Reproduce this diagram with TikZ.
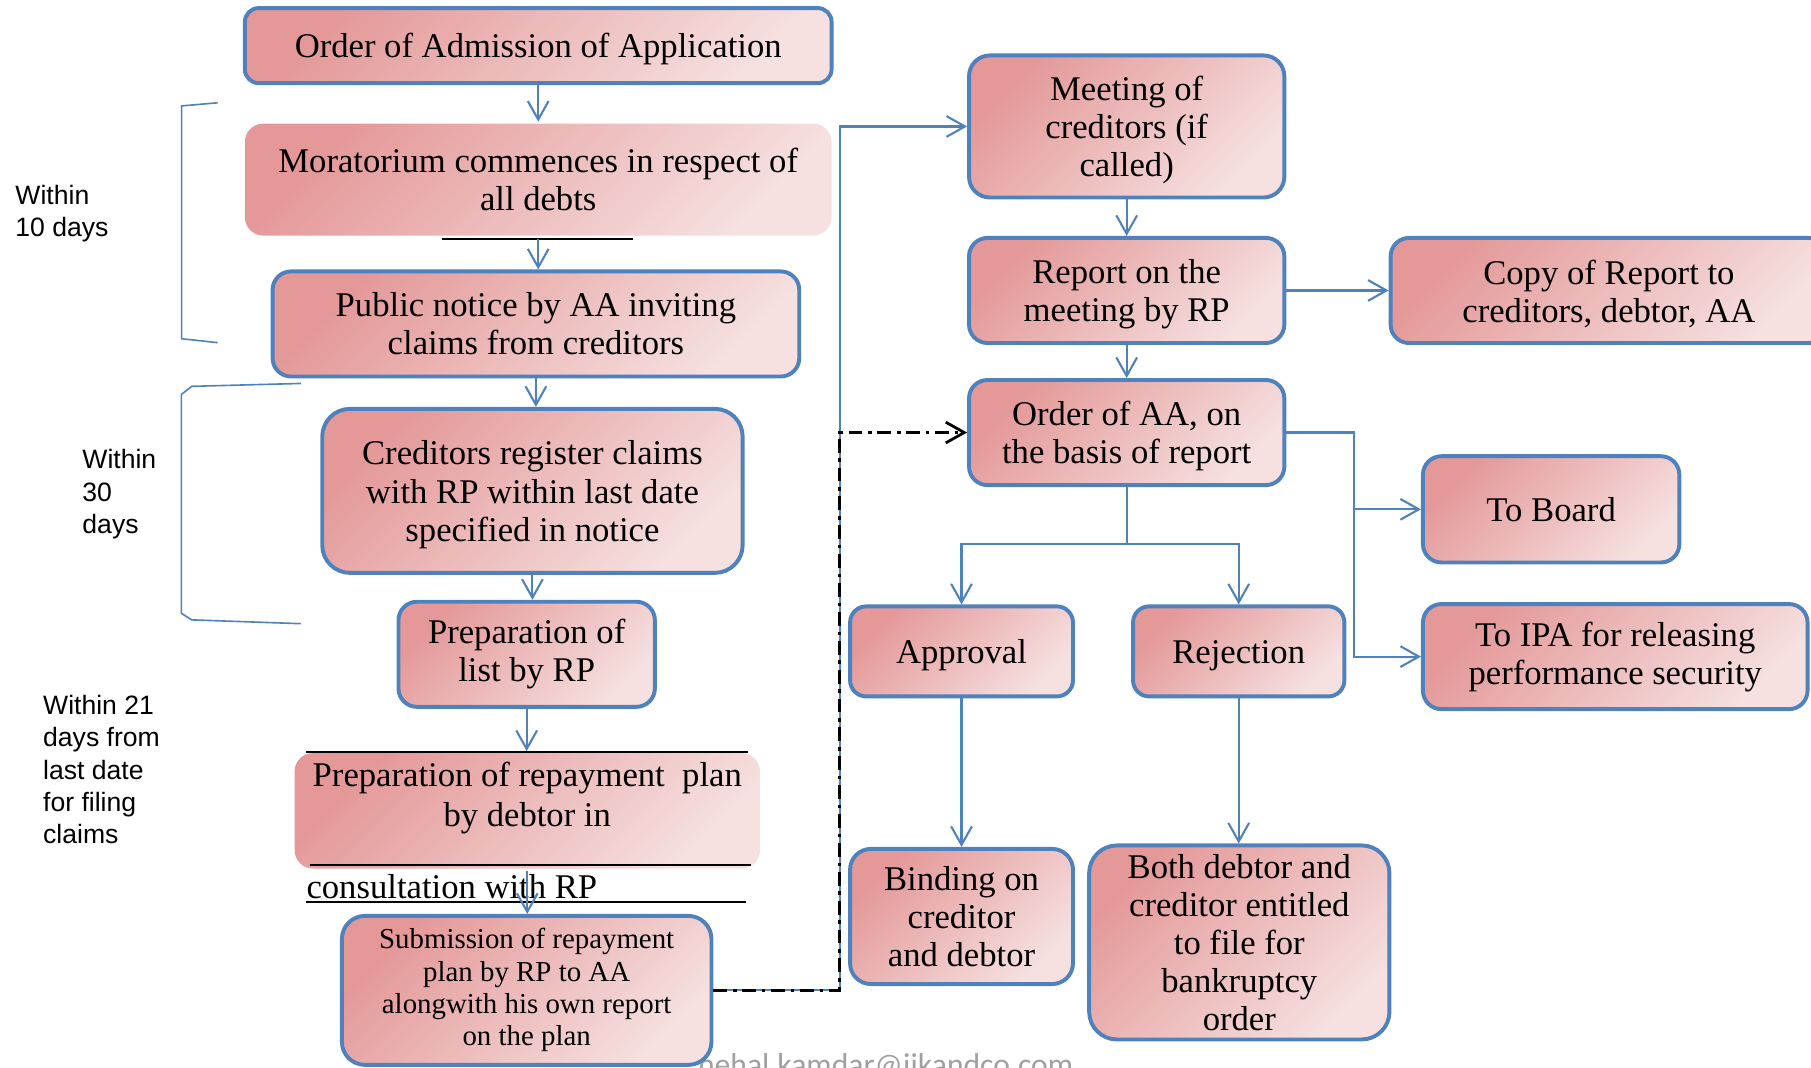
\documentclass[tikz,border=0pt]{standalone}
\usepackage{fontspec}
\setmainfont{Liberation Serif}
\newfontfamily\labelfont{Liberation Sans}
\newfontfamily\wmfont{Carlito}
\usetikzlibrary{arrows.meta,calc}
\definecolor{bblue}{RGB}{79,129,189}
\definecolor{pdark}{RGB}{228,152,152}
\definecolor{plight}{RGB}{246,224,224}
\definecolor{wmgray}{RGB}{160,160,160}
\newcommand\myupr{\rule{0pt}{13.8pt}}
\begin{document}
\begin{tikzpicture}[x=0.5pt,y=-0.5pt,
  box/.style={draw=bblue, line width=1.7pt, rounded corners=7pt,
    top color=pdark, bottom color=plight, shading angle=45,
    align=center, inner sep=2pt, font=\fontsize{15}{16.5}\selectfont},
  plainbox/.style={box, draw=none},
  smallbox/.style={box, font=\fontsize{12.5}{14}\selectfont},
  low/.style={execute at begin node={\rule{0pt}{13.5pt}}},
  txt/.style={align=center, inner sep=0pt, font=\fontsize{15}{17}\selectfont},
  arr/.style={draw=bblue, line width=0.9pt, -{Straight Barb[length=8pt,width=9pt]}},
  bline/.style={draw=bblue, line width=0.9pt},
  ddash/.style={draw=black, line width=1.2pt, dash pattern=on 6pt off 2.5pt on 1.5pt off 2.5pt,
    -{Straight Barb[length=8pt,width=9pt]}},
  blk/.style={draw=black, line width=1.2pt},
  brk/.style={draw=bblue, line width=0.7pt},
  lbl/.style={font=\labelfont\fontsize{11.5}{14}\selectfont, align=left, inner sep=0pt, anchor=west},
  wm/.style={font=\wmfont\fontsize{13.7}{16}\selectfont, text=wmgray, inner sep=0pt, anchor=base west}
]
\useasboundingbox (0,0) rectangle (1568,924);

% watermark (partly hidden behind the submission box)
\node[wm] (wmark) at (604,931) {nehal.kamdar@jjkandco.com};

% left column
\node[box, low, rounded corners=6pt, minimum width=254pt, minimum height=32.5pt] (ord) at (466,39.5) {Order of Admission of Application};
\node[plainbox, rounded corners=8pt, minimum width=254pt, minimum height=48.5pt] (mor) at (466,155.5) {Moratorium commences in respect of\\all debts};
\node[box, rounded corners=8pt, minimum width=228pt, minimum height=45.5pt] (pub) at (464,280.5) {Public notice by AA inviting\\claims from creditors};
\node[box, rounded corners=12pt, minimum width=182pt, minimum height=71pt] (cre) at (461,425) {\myupr Creditors register claims\\with RP within last date\\specified in notice};
\node[box, rounded corners=8pt, minimum width=111pt, minimum height=45.5pt] (pli) at (456,566.5) {Preparation of\\list by RP};
\node[plainbox, rounded corners=8pt, minimum width=201.5pt, minimum height=50pt] (rep) at (456.5,702) {};
\node[txt] (reptext) at (456.5,691) {Preparation of repayment\ \ plan\\by debtor in};
\node[txt, anchor=west] (cons) at (265,768) {consultation with RP};
\node[smallbox, rounded corners=10pt, minimum width=160pt, minimum height=64.5pt] (sub) at (456,857.5) {Submission of repayment\\plan by RP to AA\\alongwith his own report\\on the plan};

% black rules
\draw[blk] (383,207) -- (548,207);
\draw[blk] (265,651) -- (648,651);
\draw[blk] (268,749) -- (650,749);
\draw[blk] (265,781) -- (646,781);

% right part
\node[box, rounded corners=9pt, minimum width=136.5pt, minimum height=61.5pt] (mee) at (975.5,109.5) {\myupr Meeting of\\creditors (if\\called)};
\node[box, rounded corners=8pt, minimum width=136.5pt, minimum height=45.5pt] (rpt) at (975.5,251.5) {\myupr Report on the\\meeting by RP};
\node[box, rounded corners=8pt, minimum width=189pt, minimum height=45.5pt] (cpy) at (1393,251.5) {\myupr Copy of Report to\\creditors, debtor, AA};
\node[box, rounded corners=8pt, minimum width=136.5pt, minimum height=45.5pt] (oaa) at (975.5,374.5) {\myupr Order of AA, on\\the basis of report};
\node[box, rounded corners=8pt, minimum width=111pt, minimum height=46pt] (brd) at (1343,441) {To Board};
\node[box, rounded corners=8pt, minimum width=166.5pt, minimum height=45.5pt] (ipa) at (1398.5,568.5) {To IPA for releasing\\performance security};
\node[box, low, rounded corners=7pt, minimum width=96.5pt, minimum height=39pt] (app) at (832.5,564) {Approval};
\node[box, low, rounded corners=7pt, minimum width=91.5pt, minimum height=39pt] (rej) at (1072.5,564) {Rejection};
\node[box, rounded corners=9pt, minimum width=96.5pt, minimum height=58.5pt] (bin) at (832.5,793.5) {Binding on\\creditor\\and debtor};
\node[box, rounded corners=12pt, minimum width=130pt, minimum height=84pt] (bot) at (1073,816) {Both debtor and\\creditor entitled\\to file for\\bankruptcy\\order};

% left labels and brackets
\node[lbl] (l10) at (13,185) {Within\\10 days};
\node[lbl] (l30) at (71,428) {Within\\30\\days};
\node[lbl] (l21) at (37,666.5) {Within 21\\days from\\last date\\for filing\\claims};
\draw[brk] (188.5,89) -- (157.3,91.7) -- (157.3,293.3) -- (188.5,296.7);
\draw[brk] (260.6,332) -- (166,334.5) -- (157,341.6) -- (157,531) -- (166,536.7) -- (260.6,540);

% coordinates
\coordinate (jx) at (727,0);
\coordinate (kx) at (1172,0);
\coordinate (jy) at (0,471);

% left column connectors
\draw[arr] (ord.south) -- (mor.north);
\draw[arr] (mor.south |- 0,207) -- (mor.south |- pub.north);
\draw[arr] (pub.south) -- (pub.south |- cre.north);
\draw[arr] (cre.south) -- (cre.south |- pli.north);
\draw[arr] (pli.south) -- (pli.south |- rep.north);
\draw[arr] (rep.south) -- (rep.south |- sub.north);

% submission to meeting / order of AA
\draw[arr] (sub.east) -- (sub.east -| jx) |- (mee.west);
\draw[ddash] (sub.east) -- (sub.east -| jx) |- (oaa.west);

% right column connectors
\draw[arr] (mee.south) -- (rpt.north);
\draw[arr] (rpt.south) -- (oaa.north);
\draw[arr] (rpt.east) -- (cpy.west);
\draw[arr] (oaa.east) -| (kx |- ipa.west) -- (ipa.west);
\draw[arr] (kx |- brd.west) -- (brd.west);
\draw[bline] (oaa.south) -- (oaa.south |- jy);
\draw[arr] (oaa.south |- jy) -| (app.north);
\draw[arr] (oaa.south |- jy) -| (rej.north);
\draw[arr] (app.south) -- (bin.north);
\draw[arr] (rej.south) -- (rej.south |- bot.north);
\end{tikzpicture}
\end{document}
